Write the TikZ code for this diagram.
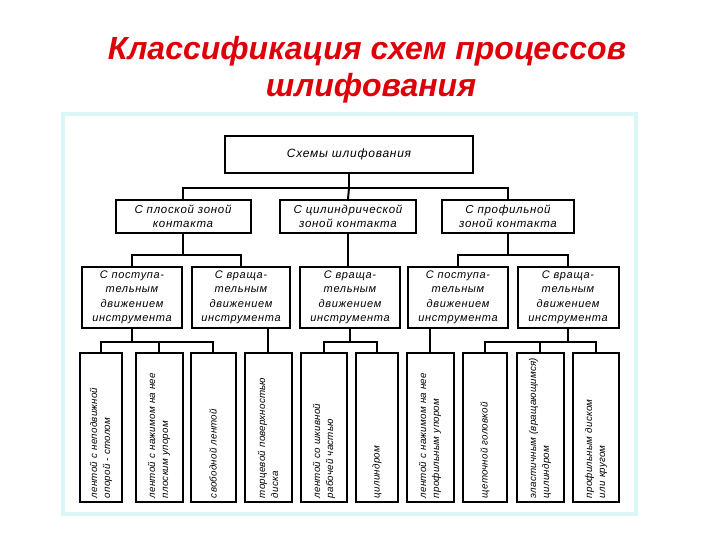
\documentclass[tikz,border=0pt]{standalone}
\usepackage{fontspec}
\setmainfont{Liberation Sans}
\newfontfamily\diafont[LetterSpace=6]{Liberation Sans}
\newfontfamily\vfont[LetterSpace=2]{Liberation Sans}
\definecolor{titlered}{RGB}{222,0,8}
\definecolor{framecyan}{RGB}{218,246,246}
\begin{document}
\begin{tikzpicture}[x=1pt,y=-1pt,
  box/.style={draw=black, line width=2pt, inner sep=0pt, align=center},
  lvone/.style={box, font=\diafont\itshape\fontsize{12}{14}\selectfont},
  lvtwo/.style={box, minimum height=33pt, font=\diafont\itshape\fontsize{11.5}{14}\selectfont},
  lvthree/.style={box, minimum height=61pt, font=\diafont\itshape\fontsize{11}{14.5}\selectfont},
  lvfour/.style={box, minimum height=149pt},
  vtext/.style={rotate=90, text width=141pt, align=left, inner sep=0pt, font=\vfont\itshape\fontsize{9.8}{13}\selectfont},
  conn/.style={draw=black, line width=2pt},
  ttl/.style={text=titlered, font=\bfseries\itshape\fontsize{32}{37}\selectfont, inner sep=0pt}
]
\useasboundingbox (0,0) rectangle (720,540);
\fill[white] (0,0) rectangle (720,540);
% frame
\draw[framecyan, line width=3.5pt] (63,114) rectangle (636,514);
% title
\node[ttl, anchor=base] (title1) at (367,60) {Классификация схем процессов};
\node[ttl, anchor=base] (title2) at (371,97) {шлифования};
% level 1
\node[lvone, minimum width=248pt, minimum height=37pt] (top) at (349,154.5) {Схемы шлифования};
% level 2
\node[lvtwo, minimum width=135pt] (la) at (183,216.5) {С плоской зоной\\контакта};
\node[lvtwo, minimum width=136pt] (lb) at (348,216.5) {С цилиндрической\\зоной контакта};
\node[lvtwo, minimum width=132pt] (lc) at (508,216.5) {С профильной\\зоной контакта};
% level 3
\node[lvthree, minimum width=100pt] (ma) at (132,297.5) {С поступа-\\тельным\\движением\\инструмента};
\node[lvthree, minimum width=98pt] (mb) at (241,297.5) {С враща-\\тельным\\движением\\инструмента};
\node[lvthree, minimum width=100pt] (mc) at (350,297.5) {С враща-\\тельным\\движением\\инструмента};
\node[lvthree, minimum width=100pt] (md) at (458,297.5) {С поступа-\\тельным\\движением\\инструмента};
\node[lvthree, minimum width=101pt] (me) at (568,297.5) {С враща-\\тельным\\движением\\инструмента};
% level 4
\node[lvfour, minimum width=42pt] (b1) at (101,427.5) {};
\node[lvfour, minimum width=47pt] (b2) at (159,427.5) {};
\node[lvfour, minimum width=45pt] (b3) at (213,427.5) {};
\node[lvfour, minimum width=47pt] (b4) at (268,427.5) {};
\node[lvfour, minimum width=46pt] (b5) at (324,427.5) {};
\node[lvfour, minimum width=42pt] (b6) at (377,427.5) {};
\node[lvfour, minimum width=47pt] (b7) at (430,427.5) {};
\node[lvfour, minimum width=44pt] (b8) at (485,427.5) {};
\node[lvfour, minimum width=47pt] (b9) at (540,427.5) {};
\node[lvfour, minimum width=46pt] (b10) at (596,427.5) {};
\node[vtext] (t1) at (b1.center) {лентой с неподвижной\\опорой - столом};
\node[vtext] (t2) at (b2.center) {лентой с нажимом на нее\\плоским упором};
\node[vtext] (t3) at (b3.center) {свободной лентой};
\node[vtext] (t4) at (b4.center) {торцевой поверхностью\\диска};
\node[vtext] (t5) at (b5.center) {лентой со шкивной\\рабочей частью};
\node[vtext] (t6) at (b6.center) {цилиндром};
\node[vtext] (t7) at (b7.center) {лентой с нажимом на нее\\профильным упором};
\node[vtext] (t8) at (b8.center) {щеточной головкой};
\node[vtext] (t9) at (b9.center) {эластичным (вращающимся)\\цилиндром};
\node[vtext] (t10) at (b10.center) {профильным диском\\или кругом};
% junctions
\coordinate (j0) at (349,188);
\coordinate (j1) at (183,255);
\coordinate (j2) at (508,255);
\coordinate (j3) at (132,342);
\coordinate (j4) at (350,342);
\coordinate (j5) at (568,342);
% connectors level 1 -> 2
\draw[conn] (top.south) -- (j0);
\draw[conn] (la.north) |- (j0) -| (lc.north);
\draw[conn] (j0) -- (lb.north);
% level 2 -> 3
\draw[conn] (la.south) -- (j1);
\draw[conn] (ma.north) |- (j1) -| (mb.north);
\draw[conn] (lb.south) -- (lb.south |- mc.north);
\draw[conn] (lc.south) -- (j2);
\draw[conn] (md.north) |- (j2) -| (me.north);
% level 3 -> 4
\draw[conn] (ma.south) -- (j3);
\draw[conn] (b1.north) |- (j3) -| (b3.north);
\draw[conn] (j3 -| b2.north) -- (b2.north);
\draw[conn] (mb.south -| b4.north) -- (b4.north);
\draw[conn] (mc.south) -- (j4);
\draw[conn] (b5.north) |- (j4) -| (b6.north);
\draw[conn] (md.south -| b7.north) -- (b7.north);
\draw[conn] (me.south) -- (j5);
\draw[conn] (b8.north) |- (j5) -| (b10.north);
\draw[conn] (j5 -| b9.north) -- (b9.north);
\end{tikzpicture}
\end{document}
